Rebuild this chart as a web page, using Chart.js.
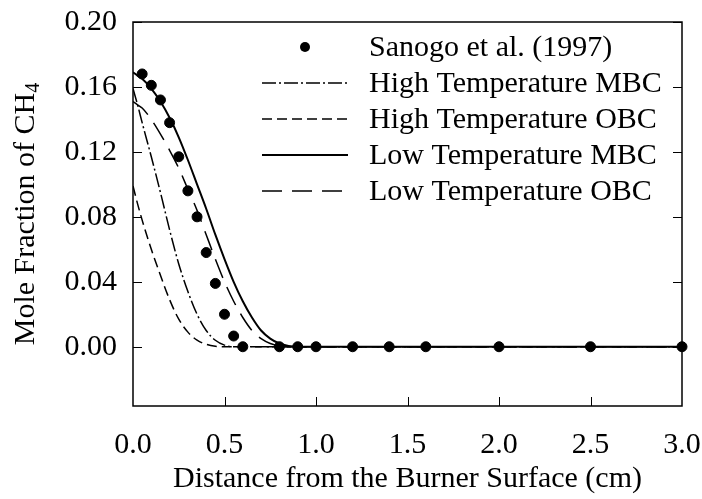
<!DOCTYPE html>
<html>
<head>
<meta charset="utf-8">
<title>Mole Fraction of CH4</title>
<script src="https://cdn.jsdelivr.net/npm/chart.js@4"></script>
<style>
  html, body { margin: 0; padding: 0; background: #fff; }
</style>
</head>
<body>
<canvas id="ch4Chart" width="702" height="499"></canvas>
<script>
// Sanogo et al. (1997) measurements
const sanogoX = [0.05, 0.10, 0.15, 0.20, 0.25, 0.30, 0.35, 0.40, 0.45, 0.50, 0.55, 0.60, 0.80, 0.90, 1.0, 1.2, 1.4, 1.6, 2.0, 2.5, 3.0];
const sanogoY = [0.168, 0.161, 0.152, 0.138, 0.117, 0.096, 0.080, 0.058, 0.039, 0.020, 0.0066, 0, 0, 0, 0, 0, 0, 0, 0, 0, 0];

// model curves, all sampled on the same distances (cm)
const distance = [0, 0.025, 0.05, 0.10, 0.15, 0.20, 0.25, 0.30, 0.35, 0.40, 0.45, 0.50, 0.55, 0.60, 0.65, 0.70, 0.75, 0.80, 0.85, 0.90, 0.95, 1.0, 3.0];
const highTempMBC = [0.159, 0.149, 0.138, 0.117, 0.095, 0.072, 0.051, 0.034, 0.020, 0.010, 0.004, 0.001, 0, 0, 0, 0, 0, 0, 0, 0, 0, 0, 0];
const highTempOBC = [0.099, 0.088, 0.078, 0.060, 0.044, 0.029, 0.017, 0.009, 0.004, 0.0015, 0.0003, 0, 0, 0, 0, 0, 0, 0, 0, 0, 0, 0, 0];
const lowTempMBC  = [0.169, 0.167, 0.165, 0.159, 0.151, 0.141, 0.129, 0.115, 0.100, 0.085, 0.069, 0.054, 0.040, 0.028, 0.018, 0.010, 0.005, 0.002, 0.0005, 0, 0, 0, 0];
const lowTempOBC  = [0.151, 0.149, 0.147, 0.140, 0.131, 0.121, 0.110, 0.097, 0.084, 0.069, 0.054, 0.040, 0.028, 0.018, 0.010, 0.005, 0.002, 0.0005, 0, 0, 0, 0, 0];

const xTicks = [0, 0.5, 1.0, 1.5, 2.0, 2.5, 3.0];
const yTicks = [0, 0.04, 0.08, 0.12, 0.16, 0.20];

const FONT = "'Liberation Serif', 'Times New Roman', serif";
const FS = 30;

function curve(label, ys, dash, width) {
  return {
    type: 'line',
    label: label,
    data: distance.map((x, i) => ({ x: x, y: ys[i] })),
    borderColor: '#000',
    borderWidth: width,
    borderDash: dash,
    pointRadius: 0,
    fill: false,
    cubicInterpolationMode: 'monotone'
  };
}

const datasets = [
  {
    type: 'scatter',
    label: 'Sanogo et al. (1997)',
    data: sanogoX.map((x, i) => ({ x: x, y: sanogoY[i] })),
    backgroundColor: '#000',
    borderColor: '#000',
    pointRadius: 5,
    pointHoverRadius: 5,
    clip: false
  },
  curve('High Temperature MBC', highTempMBC, [14, 3, 2, 3], 1.5),
  curve('High Temperature OBC', highTempOBC, [10, 5], 1.5),
  curve('Low Temperature MBC', lowTempMBC, [], 2),
  curve('Low Temperature OBC', lowTempOBC, [20, 10], 1.5)
];

// frame and inward tick marks
const framePlugin = {
  id: 'frame',
  beforeDatasetsDraw(chart) {
    const { ctx, chartArea: a, scales } = chart;
    ctx.save();
    ctx.strokeStyle = '#000';
    ctx.lineWidth = 1.5;
    ctx.strokeRect(a.left, a.top, a.right - a.left, a.bottom - a.top);
    ctx.lineWidth = 1;
    const tl = 9;
    ctx.beginPath();
    yTicks.forEach(v => {
      const y = Math.round(scales.y.getPixelForValue(v)) + 0.5;
      ctx.moveTo(a.left, y); ctx.lineTo(a.left + tl, y);
      ctx.moveTo(a.right, y); ctx.lineTo(a.right - tl, y);
    });
    xTicks.slice(1, -1).forEach(v => {
      const x = Math.round(scales.x.getPixelForValue(v)) + 0.5;
      ctx.moveTo(x, a.bottom); ctx.lineTo(x, a.bottom - tl);
    });
    ctx.stroke();
    ctx.restore();
  }
};

// legend inside the plot, line samples on the left
const legendPlugin = {
  id: 'innerLegend',
  afterDraw(chart) {
    const { ctx } = chart;
    const x0 = 262, x1 = 348, tx = 369, y0 = 47, dy = 36;
    ctx.save();
    ctx.font = FS + 'px ' + FONT;
    ctx.fillStyle = '#000';
    ctx.strokeStyle = '#000';
    ctx.textBaseline = 'middle';
    chart.data.datasets.forEach((ds, i) => {
      const y = y0 + i * dy;
      if (ds.type === 'scatter') {
        ctx.beginPath();
        ctx.arc((x0 + x1) / 2, y, 5, 0, Math.PI * 2);
        ctx.fill();
      } else {
        ctx.setLineDash(ds.borderDash);
        ctx.lineWidth = ds.borderWidth;
        ctx.beginPath();
        ctx.moveTo(x0, y); ctx.lineTo(x1, y);
        ctx.stroke();
        ctx.setLineDash([]);
      }
      ctx.fillText(ds.label, tx, y + 1);
    });
    ctx.restore();
  }
};

// rotated y title with the subscript
const yTitlePlugin = {
  id: 'yTitle',
  afterDraw(chart) {
    const { ctx, chartArea: a } = chart;
    const main = 'Mole Fraction of CH';
    const sub = '4';
    ctx.save();
    ctx.fillStyle = '#000';
    ctx.font = FS + 'px ' + FONT;
    const wMain = ctx.measureText(main).width;
    ctx.font = '20px ' + FONT;
    const wSub = ctx.measureText(sub).width;
    const total = wMain + wSub;
    ctx.translate(34, (a.top + a.bottom) / 2);
    ctx.rotate(-Math.PI / 2);
    ctx.textBaseline = 'alphabetic';
    ctx.textAlign = 'left';
    ctx.font = FS + 'px ' + FONT;
    ctx.fillText(main, -total / 2, 0);
    ctx.font = '20px ' + FONT;
    ctx.fillText(sub, -total / 2 + wMain, 5);
    ctx.restore();
  }
};

new Chart(document.getElementById('ch4Chart'), {
  data: { datasets: datasets },
  options: {
    responsive: false,
    animation: false,
    layout: { padding: 0 },
    plugins: { legend: { display: false }, tooltip: { enabled: false } },
    scales: {
      x: {
        type: 'linear',
        min: 0,
        max: 3,
        afterBuildTicks: s => { s.ticks = xTicks.map(v => ({ value: v })); },
        afterFit: s => { s.height = 93; s.paddingLeft = 0; s.paddingRight = 20; },
        grid: { display: false, drawTicks: false },
        border: { display: false },
        ticks: {
          color: '#000',
          font: { family: FONT, size: FS },
          padding: 21,
          maxRotation: 0,
          autoSkip: false,
          callback: v => Number(v).toFixed(1)
        },
        title: {
          display: true,
          text: 'Distance from the Burner Surface (cm)',
          color: '#000',
          font: { family: FONT, size: FS },
          padding: { top: 0, bottom: 2 }
        }
      },
      y: {
        type: 'linear',
        min: -0.0365,
        max: 0.2,
        afterBuildTicks: s => { s.ticks = yTicks.map(v => ({ value: v })); },
        afterFit: s => { s.width = 133; s.paddingTop = 22; s.paddingBottom = 0; },
        grid: { display: false, drawTicks: false },
        border: { display: false },
        ticks: {
          color: '#000',
          font: { family: FONT, size: FS },
          padding: 16,
          callback: v => Number(v).toFixed(2)
        }
      }
    }
  },
  plugins: [framePlugin, legendPlugin, yTitlePlugin]
});
</script>
</body>
</html>
